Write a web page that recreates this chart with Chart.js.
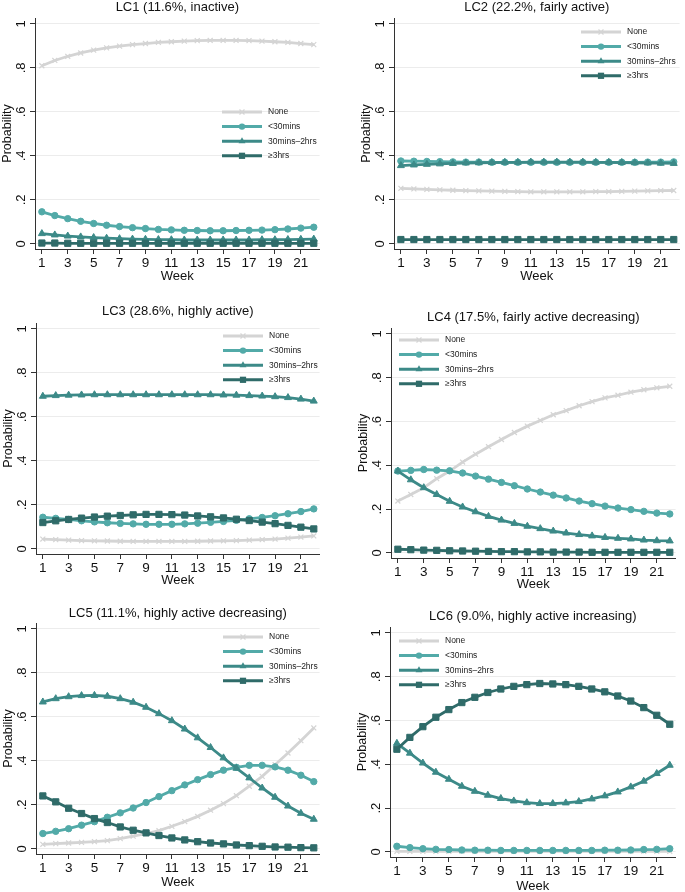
<!DOCTYPE html>
<html>
<head>
<meta charset="utf-8">
<script src="https://cdn.jsdelivr.net/npm/chart.js@4.4.1/dist/chart.umd.min.js"></script>
<style>
  html, body { margin: 0; padding: 0; background: #fff; overflow: hidden; }
  body { width: 685px; height: 892px; position: relative; }
  .panel { position: absolute; }
</style>
</head>
<body>
<script>
// weeks and tick labels
const weeks = [1, 2, 3, 4, 5, 6, 7, 8, 9, 10, 11, 12, 13, 14, 15, 16, 17, 18, 19, 20, 21, 22];
const weekTicks = [1, 3, 5, 7, 9, 11, 13, 15, 17, 19, 21];
const yTicks = [0, 0.2, 0.4, 0.6, 0.8, 1];
const yTickLabels = ['0', '.2', '.4', '.6', '.8', '1'];
const seriesNames = ['None', '<30mins', '30mins\u20132hrs', '\u22653hrs'];
const panelTitles = [
  'LC1 (11.6%, inactive)',
  'LC2 (22.2%, fairly active)',
  'LC3 (28.6%, highly active)',
  'LC4 (17.5%, fairly active decreasing)',
  'LC5 (11.1%, highly active decreasing)',
  'LC6 (9.0%, highly active increasing)'
];

// LC1
const lc1None = [.810, .834, .853, .868, .881, .891, .899, .906, .911, .916, .919, .922, .924, .925, .925, .925, .924, .922, .919, .916, .911, .906];
const lc1Lt30 = [.146, .129, .115, .103, .093, .085, .079, .074, .070, .066, .064, .062, .061, .060, .060, .061, .062, .063, .065, .068, .072, .076];
const lc1Mid  = [.047, .041, .036, .032, .029, .026, .024, .022, .021, .020, .019, .018, .018, .018, .018, .018, .018, .019, .019, .020, .021, .022];
const lc1Ge3  = [.004, .004, .003, .003, .003, .003, .003, .003, .003, .003, .003, .003, .003, .003, .003, .003, .003, .003, .003, .003, .003, .003];
// LC2
const lc2None = [.253, .250, .248, .246, .244, .242, .241, .240, .239, .238, .237, .237, .237, .237, .237, .238, .238, .239, .240, .241, .242, .243];
const lc2Lt30 = [.377, .376, .375, .374, .373, .372, .372, .371, .371, .371, .371, .371, .371, .371, .371, .371, .371, .371, .371, .372, .372, .373];
const lc2Mid  = [.356, .359, .362, .364, .366, .368, .369, .370, .371, .371, .372, .372, .372, .372, .372, .371, .371, .370, .369, .368, .367, .366];
const lc2Ge3  = [.020, .020, .020, .020, .020, .020, .020, .020, .020, .020, .020, .020, .020, .020, .020, .020, .020, .020, .020, .020, .020, .020];
// LC3
const lc3None = [.045, .042, .040, .038, .037, .036, .035, .034, .034, .034, .034, .034, .035, .036, .037, .038, .040, .042, .045, .049, .054, .059];
const lc3Lt30 = [.144, .139, .134, .128, .123, .119, .116, .114, .112, .112, .112, .114, .117, .121, .125, .130, .137, .143, .151, .160, .170, .182];
const lc3Mid  = [.694, .697, .699, .700, .701, .701, .701, .701, .701, .701, .701, .701, .701, .701, .700, .699, .697, .695, .692, .688, .681, .672];
const lc3Ge3  = [.120, .128, .134, .140, .145, .149, .152, .155, .157, .157, .156, .154, .150, .146, .141, .135, .129, .122, .115, .107, .099, .091];
// LC4
const lc4None = [.237, .267, .298, .339, .374, .415, .451, .485, .518, .550, .579, .605, .631, .650, .672, .691, .708, .720, .734, .745, .754, .761];
const lc4Lt30 = [.374, .377, .381, .378, .375, .365, .351, .337, .322, .307, .292, .278, .264, .251, .237, .225, .214, .205, .198, .190, .182, .178];
const lc4Mid  = [.374, .334, .298, .267, .236, .210, .188, .167, .150, .135, .122, .111, .100, .091, .084, .078, .071, .067, .064, .059, .056, .055];
const lc4Ge3  = [.017, .015, .013, .012, .010, .009, .008, .007, .006, .006, .005, .005, .004, .004, .004, .003, .003, .003, .003, .003, .003, .003];
// LC5
const lc5None = [.021, .024, .027, .030, .033, .038, .047, .058, .070, .083, .103, .124, .148, .176, .206, .242, .285, .330, .383, .436, .492, .550];
const lc5Lt30 = [.070, .080, .092, .108, .124, .144, .164, .186, .211, .238, .265, .291, .315, .338, .358, .371, .380, .380, .373, .358, .335, .306];
const lc5Mid  = [.668, .683, .692, .697, .698, .694, .683, .667, .644, .615, .583, .545, .505, .461, .414, .367, .323, .277, .235, .195, .162, .135];
const lc5Ge3  = [.241, .214, .185, .161, .138, .120, .100, .085, .073, .061, .050, .041, .033, .027, .023, .018, .015, .012, .009, .008, .006, .005];
// LC6
const lc6None = [.003, .003, .003, .003, .003, .003, .003, .003, .003, .003, .003, .003, .003, .003, .003, .003, .003, .003, .003, .003, .003, .003];
const lc6Lt30 = [.026, .020, .015, .012, .011, .009, .008, .008, .007, .007, .007, .007, .007, .007, .007, .007, .008, .008, .009, .011, .012, .015];
const lc6Mid  = [.496, .451, .406, .364, .332, .300, .277, .259, .244, .233, .225, .221, .221, .224, .230, .242, .256, .274, .297, .323, .358, .396];
const lc6Ge3  = [.469, .523, .572, .615, .650, .682, .706, .728, .744, .756, .764, .769, .767, .764, .756, .744, .731, .712, .689, .659, .624, .583];

const panelSeries = [
  [lc1None, lc1Lt30, lc1Mid, lc1Ge3],
  [lc2None, lc2Lt30, lc2Mid, lc2Ge3],
  [lc3None, lc3Lt30, lc3Mid, lc3Ge3],
  [lc4None, lc4Lt30, lc4Mid, lc4Ge3],
  [lc5None, lc5Lt30, lc5Mid, lc5Ge3],
  [lc6None, lc6Lt30, lc6Mid, lc6Ge3]
];

// look
const FONT = "'Liberation Sans', Arial, Helvetica, sans-serif";
const colors = ['#d4d4d4', '#52aaa8', '#3c8a88', '#2f6b69'];
const markers = ['crossRot', 'circle', 'triangle', 'rect'];
const markerSize = [3.5, 3.2, 4, 4.4];

// plot area of each panel on the page, title / x-title centres, legend offset
const layout = [
  { l: 35,  r: 325, t: 18,  b: 249, titleY: 8,   weekY: 276, lx: 187, ly: 94 },
  { l: 394, r: 685, t: 18,  b: 249, titleY: 8,   weekY: 276, lx: 187, ly: 14 },
  { l: 36,  r: 325, t: 323, b: 554, titleY: 312, weekY: 580, lx: 187, ly: 13 },
  { l: 391, r: 681, t: 328, b: 558, titleY: 318, weekY: 584, lx: 8,   ly: 12 },
  { l: 36,  r: 325, t: 623, b: 854, titleY: 614, weekY: 882, lx: 187, ly: 14 },
  { l: 390, r: 681, t: 627, b: 857, titleY: 617, weekY: 886, lx: 9,   ly: 14 }
];
const YW = 35;

Chart.defaults.font.family = FONT;
Chart.defaults.color = '#111';

function marker(ctx, style, r, x, y) {
  ctx.beginPath();
  if (style === 'circle') {
    ctx.arc(x, y, r, 0, Math.PI * 2);
    ctx.fill();
  } else if (style === 'rect') {
    const s = r * Math.SQRT1_2;
    ctx.fillRect(x - s, y - s, 2 * s, 2 * s);
  } else if (style === 'triangle') {
    ctx.moveTo(x, y - r);
    ctx.lineTo(x + r * 0.866, y + r * 0.5);
    ctx.lineTo(x - r * 0.866, y + r * 0.5);
    ctx.closePath();
    ctx.fill();
  } else {
    const s = r * Math.SQRT1_2;
    ctx.moveTo(x - s, y - s); ctx.lineTo(x + s, y + s);
    ctx.moveTo(x + s, y - s); ctx.lineTo(x - s, y + s);
    ctx.lineWidth = 1.2;
    ctx.stroke();
  }
}

const legendInside = {
  id: 'legendInside',
  afterDraw(chart, args, opts) {
    const { ctx, chartArea } = chart;
    ctx.save();
    seriesNames.forEach((name, i) => {
      const x0 = chartArea.left + opts.lx;
      const y = chartArea.top + opts.ly + i * 14.6;
      ctx.strokeStyle = colors[i];
      ctx.fillStyle = colors[i];
      ctx.lineWidth = 3;
      ctx.beginPath();
      ctx.moveTo(x0, y);
      ctx.lineTo(x0 + 40, y);
      ctx.stroke();
      marker(ctx, markers[i], markerSize[i], x0 + 20, y);
      ctx.fillStyle = '#222';
      ctx.font = '8.5px ' + FONT;
      ctx.textBaseline = 'middle';
      ctx.textAlign = 'left';
      ctx.fillText(name, x0 + 46, y);
    });
    ctx.restore();
  }
};

layout.forEach((g, p) => {
  const left = g.l - YW;
  const top = g.titleY - 8;
  const width = g.r - left;
  const xh = Math.round(g.weekY + 7.8 - g.b);
  const height = g.b + xh - top;
  const padB = g.t - top - 15.6;

  const div = document.createElement('div');
  div.className = 'panel';
  div.style.left = left + 'px';
  div.style.top = top + 'px';
  const canvas = document.createElement('canvas');
  canvas.width = width;
  canvas.height = height;
  div.appendChild(canvas);
  document.body.appendChild(div);

  const datasets = panelSeries[p].map((vals, i) => ({
    label: seriesNames[i],
    data: weeks.map((w, k) => ({ x: w, y: vals[k] })),
    borderColor: colors[i],
    backgroundColor: colors[i],
    borderWidth: 2.8,
    pointStyle: markers[i],
    pointRadius: markerSize[i],
    pointBorderWidth: i === 0 ? 1.2 : 1,
    pointBackgroundColor: colors[i],
    pointBorderColor: colors[i],
    tension: 0,
    order: 3 - i,
    clip: false
  }));

  new Chart(canvas, {
    type: 'line',
    data: { datasets },
    plugins: [legendInside],
    options: {
      responsive: false,
      animation: false,
      events: [],
      layout: { padding: 0 },
      plugins: {
        legend: { display: false },
        tooltip: { enabled: false },
        title: {
          display: true,
          text: panelTitles[p],
          fullSize: false,
          color: '#111',
          font: { size: 13, weight: 'normal' },
          padding: { top: 0, bottom: padB }
        },
        legendInside: { lx: g.lx, ly: g.ly }
      },
      scales: {
        x: {
          type: 'linear',
          min: 0.47,
          max: 22.45,
          afterBuildTicks: s => { s.ticks = weekTicks.map(v => ({ value: v })); },
          afterFit: s => { s.height = xh; },
          ticks: { autoSkip: false, maxRotation: 0, padding: 1, font: { size: 13.5 }, color: '#111',
                   callback: v => String(v) },
          grid: { drawOnChartArea: false, tickLength: 5, tickColor: '#333' },
          border: { color: '#333', width: 1 },
          title: { display: true, text: 'Week', font: { size: 13 }, padding: 0, color: '#111' }
        },
        y: {
          min: -0.023,
          max: 1.027,
          afterBuildTicks: s => { s.ticks = yTicks.map(v => ({ value: v })); },
          afterFit: s => { s.width = YW; },
          ticks: { minRotation: 90, maxRotation: 90, crossAlign: 'center', padding: 3,
                   font: { size: 13 }, color: '#111',
                   callback: (v, i) => yTickLabels[i] },
          grid: { color: '#ececec', lineWidth: 1, tickLength: 5, tickColor: '#333' },
          border: { color: '#333', width: 1 },
          title: { display: true, text: 'Probability', font: { size: 12.5 }, padding: 0, color: '#111' }
        }
      }
    }
  });
});
</script>
</body>
</html>
